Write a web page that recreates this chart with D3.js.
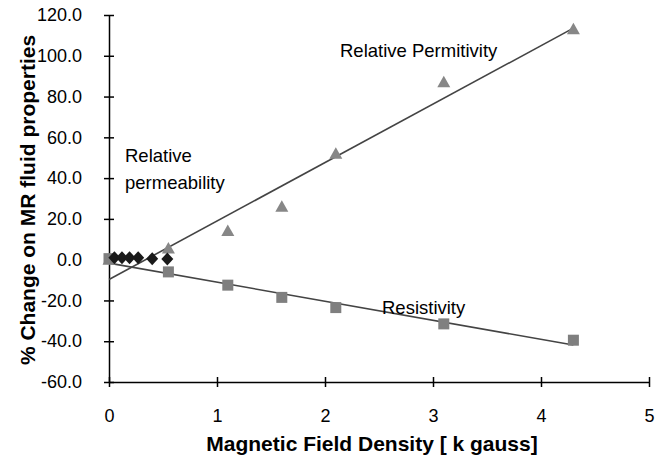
<!DOCTYPE html>
<html>
<head>
<meta charset="utf-8">
<script src="https://cdn.jsdelivr.net/npm/d3@7"></script>
<style>
  body { margin: 0; background: #fff; }
  svg text { font-family: "Liberation Sans", Arial, sans-serif; }
</style>
</head>
<body>
<svg id="chart" width="664" height="455"></svg>
<script>
// field density (k gauss)
var fieldX = [0, 0.55, 1.1, 1.6, 2.1, 3.1, 4.3];
var permittivity = [0, 5.5, 14, 26, 52, 87, 113];
var resistivity = [0.5, -6, -12.5, -18.5, -23.5, -31.5, -39.5];
// relative permeability, only measured at low field
var permX = [0.05, 0.12, 0.19, 0.27, 0.4, 0.54];
var permeability = [1, 1, 1, 1, 0.5, 0.3];

var xTicks = [0, 1, 2, 3, 4, 5];
var yTicks = [-60, -40, -20, 0, 20, 40, 60, 80, 100, 120];

var width = 664, height = 455;
var margin = {top: 15, right: 15, bottom: 73, left: 109};

var svg = d3.select("#chart");

var x = d3.scaleLinear().domain([0, 5]).range([margin.left, width - margin.right]);
var y = d3.scaleLinear().domain([-60, 120]).range([height - margin.bottom, margin.top]);

// least squares fit, like the excel trendline
function fit(xs, ys) {
  var mx = d3.mean(xs), my = d3.mean(ys);
  var sxy = 0, sxx = 0;
  xs.forEach(function(v, i){
    sxy += (v - mx) * (ys[i] - my);
    sxx += (v - mx) * (v - mx);
  });
  var b = sxy / sxx;
  return function(v){ return my + b * (v - mx); };
}

var permFit = fit(fieldX, permittivity);
var resFit = fit(fieldX, resistivity);
var x0 = d3.min(fieldX), x1 = d3.max(fieldX);

// axes
var yAxis = svg.append("g")
  .attr("transform", "translate(" + x(0) + ",0)")
  .call(d3.axisLeft(y).tickValues(yTicks).tickSize(0).tickPadding(27)
    .tickFormat(function(d){ return d.toFixed(1); }));
yAxis.select(".domain").attr("stroke", "#000").attr("stroke-width", 1.5);
yAxis.selectAll("text").attr("font-size", 18).attr("fill", "#000");
yAxis.selectAll(".tick").append("line")
  .attr("x1", -5).attr("x2", 5)
  .attr("stroke", "#000").attr("stroke-width", 1.5);

var xAxis = svg.append("g")
  .attr("transform", "translate(0," + y(-60) + ")")
  .call(d3.axisBottom(x).tickValues(xTicks).tickSize(0).tickPadding(27)
    .tickFormat(function(d){ return String(d); }));
xAxis.select(".domain").attr("stroke", "#000").attr("stroke-width", 1.5);
xAxis.selectAll("text").attr("font-size", 18).attr("fill", "#000");
xAxis.selectAll(".tick").append("line")
  .attr("y1", -5).attr("y2", 5)
  .attr("stroke", "#000").attr("stroke-width", 1.5);

// trend lines
[permFit, resFit].forEach(function(f){
  svg.append("line")
    .attr("x1", x(x0)).attr("y1", y(f(x0)))
    .attr("x2", x(x1)).attr("y2", y(f(x1)))
    .attr("stroke", "#444")
    .attr("stroke-width", 1.6);
});

var permPts = fieldX.map(function(d, i){ return {x: d, y: permittivity[i]}; });
var resPts = fieldX.map(function(d, i){ return {x: d, y: resistivity[i]}; });
var muPts = permX.map(function(d, i){ return {x: d, y: permeability[i]}; });

svg.append("g").selectAll("path").data(permPts).enter().append("path")
  .attr("d", "M0,-6.5L6.5,5L-6.5,5Z")
  .attr("transform", function(d){ return "translate(" + x(d.x) + "," + y(d.y) + ")"; })
  .attr("fill", "#878787");

svg.append("g").selectAll("rect").data(resPts).enter().append("rect")
  .attr("x", function(d){ return x(d.x) - 5.5; })
  .attr("y", function(d){ return y(d.y) - 5.5; })
  .attr("width", 11).attr("height", 11)
  .attr("fill", "#7f7f7f");

svg.append("g").selectAll("path").data(muPts).enter().append("path")
  .attr("d", "M0,-6.5L6,0L0,6.5L-6,0Z")
  .attr("transform", function(d){ return "translate(" + x(d.x) + "," + y(d.y) + ")"; })
  .attr("fill", "#1a1a1a");

// annotations
var notes = [
  {t: "Relative Permitivity", x: 340, y: 57},
  {t: "Relative", x: 125, y: 162},
  {t: "permeability", x: 125, y: 189},
  {t: "Resistivity", x: 382, y: 314}
];
svg.selectAll(".note").data(notes).enter().append("text")
  .attr("class", "note")
  .attr("x", function(d){ return d.x; })
  .attr("y", function(d){ return d.y; })
  .attr("font-size", 18.5)
  .text(function(d){ return d.t; });

// axis titles
svg.append("text")
  .attr("x", 372).attr("y", 451)
  .attr("text-anchor", "middle")
  .attr("font-size", 21).attr("font-weight", "bold")
  .text("Magnetic Field Density [ k gauss]");

svg.append("text")
  .attr("transform", "translate(35,200) rotate(-90)")
  .attr("text-anchor", "middle")
  .attr("font-size", 21).attr("font-weight", "bold")
  .text("% Change on MR fluid properties");
</script>
</body>
</html>
